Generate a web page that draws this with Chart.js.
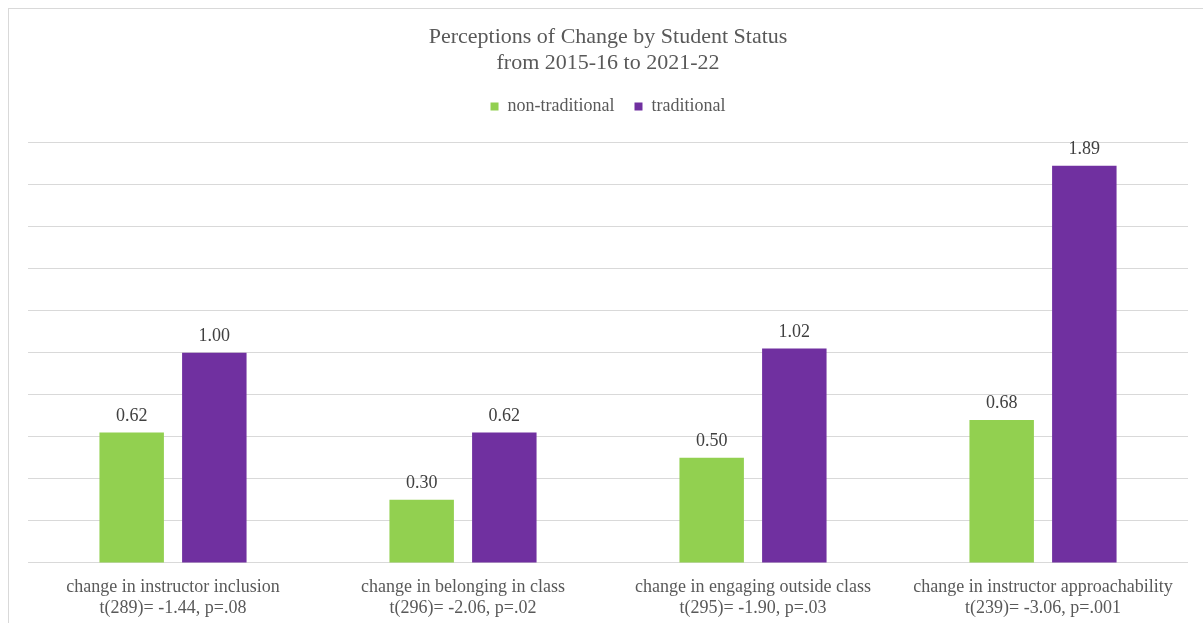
<!DOCTYPE html>
<html>
<head>
<meta charset="utf-8">
<script src="https://cdn.jsdelivr.net/npm/chart.js@4.4.0/dist/chart.umd.min.js"></script>
<style>
	html, body { margin: 0; padding: 0; background: #fff; }
	#wrap { position: relative; width: 1203px; height: 623px; overflow: hidden; }
	#frame { position: absolute; left: 8px; top: 8px; width: 1300px; height: 700px; border-left: 1px solid #d9d9d9; border-top: 1px solid #d9d9d9; }
	#chart { position: absolute; left: 0; top: 0; }
</style>
</head>
<body>
<div id="wrap">
	<div id="frame"></div>
	<canvas id="chart" width="1203" height="623"></canvas>
</div>
<script>
	const categories = [
		['change in instructor inclusion', 't(289)= -1.44, p=.08'],
		['change in belonging in class', 't(296)= -2.06, p=.02'],
		['change in engaging outside class', 't(295)= -1.90, p=.03'],
		['change in instructor approachability', 't(239)= -3.06, p=.001']
	];
	const nonTraditional = [0.62, 0.30, 0.50, 0.68];
	const traditional = [1.00, 0.62, 1.02, 1.89];

	const serif = 'Liberation Serif';

	// value labels above each bar
	const barValues = {
		id: 'barValues',
		afterDatasetsDraw(chart) {
			const { ctx } = chart;
			ctx.save();
			ctx.font = '18px "' + serif + '"';
			ctx.fillStyle = '#404040';
			ctx.textAlign = 'center';
			ctx.textBaseline = 'alphabetic';
			chart.data.datasets.forEach((ds, i) => {
				chart.getDatasetMeta(i).data.forEach((bar, j) => {
					ctx.fillText(ds.data[j].toFixed(2), bar.x, bar.y - 12);
				});
			});
			ctx.restore();
		}
	};

	// extra room under the legend
	const legendGap = {
		id: 'legendGap',
		beforeInit(chart) {
			const fit = chart.legend.fit;
			chart.legend.fit = function () {
				fit.bind(chart.legend)();
				this.height += 17;
			};
		}
	};

	new Chart(document.getElementById('chart'), {
		type: 'bar',
		data: {
			labels: categories,
			datasets: [
				{
					label: 'non-traditional',
					backgroundColor: '#92d050',
					data: nonTraditional
				},
				{
					label: 'traditional',
					backgroundColor: '#7030a0',
					data: traditional
				}
			]
		},
		options: {
			responsive: false,
			animation: false,
			layout: {
				padding: { left: 28, right: 15, top: 25, bottom: 4 }
			},
			datasets: {
				bar: {
					categoryPercentage: 0.57,
					barPercentage: 0.78
				}
			},
			plugins: {
				title: {
					display: true,
					text: ['Perceptions of Change by Student Status', 'from 2015-16 to 2021-22'],
					color: '#595959',
					font: { family: serif, size: 22, weight: 'normal', lineHeight: 1.15 },
					padding: { top: 0, bottom: 2 }
				},
				legend: {
					position: 'top',
					labels: {
						color: '#595959',
						font: { family: serif, size: 18 },
						boxWidth: 8,
						boxHeight: 8,
						padding: 20
					}
				},
				tooltip: { enabled: false }
			},
			scales: {
				x: {
					grid: { display: false },
					border: { display: false },
					afterFit(scale) {
						scale.height -= 6;
					},
					ticks: {
						color: '#595959',
						font: { family: serif, size: 18, lineHeight: 1.17 },
						padding: 6,
						maxRotation: 0,
						autoSkip: false
					}
				},
				y: {
					min: 0,
					max: 2,
					ticks: { display: false, stepSize: 0.2 },
					grid: { color: '#d9d9d9', lineWidth: 1, drawTicks: false },
					border: { display: false }
				}
			}
		},
		plugins: [barValues, legendGap]
	});
</script>
</body>
</html>
